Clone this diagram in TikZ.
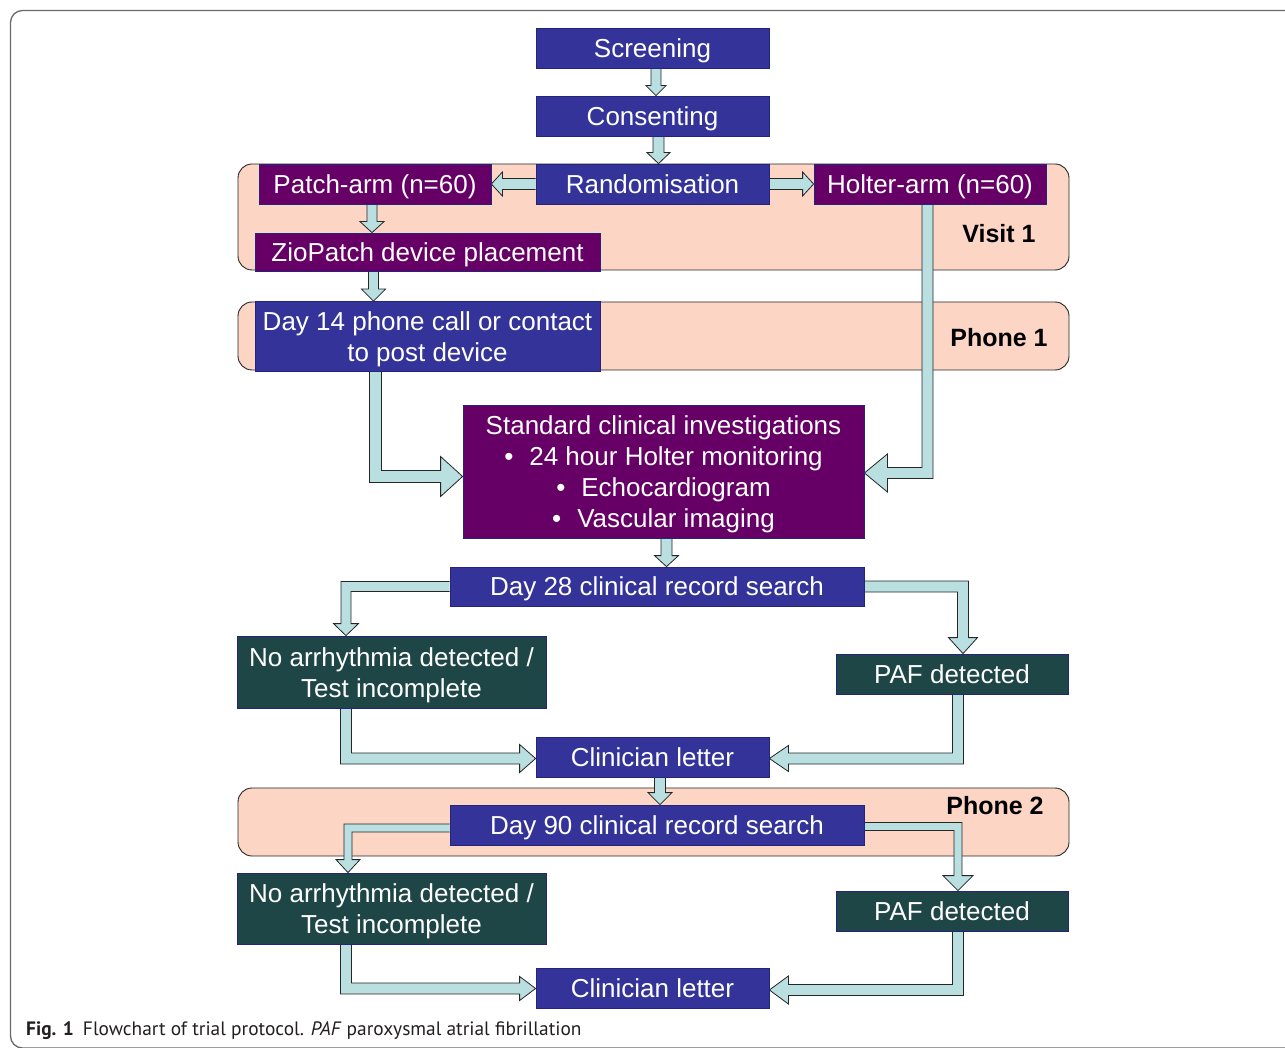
\documentclass[tikz,border=0pt]{standalone}
\usepackage{fontspec}
\setmainfont{Liberation Sans}
\newfontfamily\capfont{PT Sans}
\usetikzlibrary{calc}
\definecolor{boxblue}{HTML}{333399}
\definecolor{boxpurple}{HTML}{660066}
\definecolor{boxteal}{HTML}{1F4646}
\definecolor{bandpeach}{HTML}{FCD5C4}
\definecolor{arrowfill}{HTML}{B9DFE1}
\definecolor{boxline}{HTML}{24247A}
\definecolor{framegray}{HTML}{6A6A6A}
\definecolor{captext}{HTML}{231F20}
\pgfdeclarelayer{bandlayer}
\pgfdeclarelayer{arrowlayer}
\pgfsetlayers{bandlayer,arrowlayer,main}
% straight block arrow: #1 start, #2 tip, #3 direction, #4 perpendicular, #5 half shaft, #6 half head, #7 head length
\newcommand{\straightblk}[7]{\filldraw[blockarrow] ($(#1)-#5*(#4)$) -- ($(#2)-#7*(#3)-#5*(#4)$) -- ($(#2)-#7*(#3)-#6*(#4)$) -- (#2) -- ($(#2)-#7*(#3)+#6*(#4)$) -- ($(#2)-#7*(#3)+#5*(#4)$) -- ($(#1)+#5*(#4)$);}
% elbow block arrow: #1 start, #2 corner, #3 tip, #4 first dir, #5 second dir, #6 half shaft, #7 half head, #8 head length
\newcommand{\elbowblk}[8]{\filldraw[blockarrow] ($(#1)-#6*(#5)$) -- ($(#2)-#6*(#5)+#6*(#4)$) -- ($(#3)-#8*(#5)+#6*(#4)$) -- ($(#3)-#8*(#5)+#7*(#4)$) -- (#3) -- ($(#3)-#8*(#5)-#7*(#4)$) -- ($(#3)-#8*(#5)-#6*(#4)$) -- ($(#2)+#6*(#5)-#6*(#4)$) -- ($(#1)+#6*(#5)$);}
\begin{document}
\begin{tikzpicture}[x=1pt,y=-1pt,
  box/.style={rectangle, draw=boxline, line width=0.8pt, text=white, font=\fontsize{26}{31}\selectfont, align=center, inner sep=0pt,
    execute at begin node={\rule{0pt}{24pt}}, execute at end node={\rule[-5.4pt]{0pt}{5.4pt}}},
  bluebox/.style={box, fill=boxblue},
  purplebox/.style={box, fill=boxpurple},
  tealbox/.style={box, fill=boxteal},
  blockarrow/.style={fill=arrowfill, draw=black!85, line width=0.8pt, line join=miter},
  band/.style={fill=bandpeach, draw=black!85, line width=0.9pt, rounded corners=14pt},
  bandlabel/.style={font=\bfseries\fontsize{25}{30}\selectfont, text=black, inner sep=0pt}
]
\useasboundingbox (0,0) rectangle (1285,1048);
\draw[framegray, line width=1.3pt, rounded corners=12pt] (1300,10.5) -- (10.5,10.5) -- (10.5,1048) -- (1300,1048);

% boxes
\node[bluebox, minimum width=233, minimum height=40] (scr) at (652.5,48) {Screening};
\node[bluebox, minimum width=233, minimum height=40] (cons) at (652.5,116) {Consenting};
\node[bluebox, minimum width=233, minimum height=40] (rand) at (652.5,184) {Randomisation};
\node[purplebox, minimum width=232, minimum height=40] (patch) at (375,184) {Patch-arm (n=60)};
\node[purplebox, minimum width=232, minimum height=40] (holter) at (930,184) {Holter-arm (n=60)};
\node[purplebox, minimum width=345, minimum height=38] (zio) at (427.5,252) {ZioPatch device placement};
\node[bluebox, minimum width=345, minimum height=70, text height=55pt, text depth=5.4pt] (d14) at (427.5,336.5) {Day 14 phone call or contact\\to post device};
\node[purplebox, minimum width=401, minimum height=133, text height=117pt, text depth=5.4pt] (std) at (663.5,471.5) {Standard clinical investigations\\\textbullet\hspace{16pt}24 hour Holter monitoring\\\textbullet\hspace{16pt}Echocardiogram\\\textbullet\hspace{16pt}Vascular imaging};
\node[bluebox, minimum width=414, minimum height=39] (d28) at (657,586.5) {Day 28 clinical record search};
\node[tealbox, minimum width=309, minimum height=72, text height=56pt, text depth=5.4pt] (no1) at (391.5,672) {No arrhythmia detected /\\Test incomplete};
\node[tealbox, minimum width=232, minimum height=40] (paf1) at (952,674) {PAF detected};
\node[bluebox, minimum width=233, minimum height=40] (cl1) at (652.5,757) {Clinician letter};
\node[bluebox, minimum width=414, minimum height=40] (d90) at (657,825) {Day 90 clinical record search};
\node[tealbox, minimum width=309, minimum height=71, text height=55pt, text depth=5.4pt] (no2) at (391.5,908.5) {No arrhythmia detected /\\Test incomplete};
\node[tealbox, minimum width=232, minimum height=40] (paf2) at (952,911) {PAF detected};
\node[bluebox, minimum width=233, minimum height=40] (cl2) at (652.5,988.5) {Clinician letter};

% bands
\begin{pgfonlayer}{bandlayer}
\draw[band] (238,164) rectangle (1069,270);
\draw[band] (238,302) rectangle (1069,370);
\draw[band] (238,788) rectangle (1069,856);
\end{pgfonlayer}
\node[bandlabel] (v1) at (999,234) {Visit 1};
\node[bandlabel] (p1) at (999,338) {Phone 1};
\node[bandlabel] (p2) at (995,806) {Phone 2};

% arrow coordinates
\coordinate (a1s) at ($(scr.south)+(3.5,0)$);
\coordinate (a1t) at (a1s |- cons.north);
\coordinate (a2s) at ($(cons.south)+(6,0)$);
\coordinate (a2t) at (a2s |- rand.north);
\coordinate (a3s) at (rand.west);
\coordinate (a3t) at (patch.east |- a3s);
\coordinate (a4s) at (rand.east);
\coordinate (a4t) at (holter.west |- a4s);
\coordinate (a5s) at ($(patch.south)+(-3,0)$);
\coordinate (a5t) at (a5s |- zio.north);
\coordinate (a6s) at ($(zio.south)+(-54,0)$);
\coordinate (a6t) at (a6s |- d14.north);
\coordinate (a7s) at ($(d14.south)+(-52,0)$);
\coordinate (a7t) at ($(std.west)+(0,5)$);
\coordinate (a7c) at (a7s |- a7t);
\coordinate (a8s) at ($(holter.south)+(-2.5,0)$);
\coordinate (a8t) at ($(std.east)+(0,1.5)$);
\coordinate (a8c) at (a8s |- a8t);
\coordinate (a9s) at ($(std.south)+(3,0)$);
\coordinate (a9t) at (a9s |- d28.north);
\coordinate (b1s) at (d28.west);
\coordinate (b1t) at ($(no1.north)+(-45.5,0)$);
\coordinate (b1c) at (b1t |- b1s);
\coordinate (b2s) at (d28.east);
\coordinate (b2t) at ($(paf1.north)+(11,0)$);
\coordinate (b2c) at (b2t |- b2s);
\coordinate (b3s) at ($(no1.south)+(-45.5,0)$);
\coordinate (b3t) at ($(cl1.west)+(0,1.5)$);
\coordinate (b3c) at (b3s |- b3t);
\coordinate (b4s) at ($(paf1.south)+(6,0)$);
\coordinate (b4t) at ($(cl1.east)+(0,1.5)$);
\coordinate (b4c) at (b4s |- b4t);
\coordinate (b5s) at ($(cl1.south)+(7.5,0)$);
\coordinate (b5t) at (b5s |- d90.north);
\coordinate (c1s) at ($(d90.west)+(0,3)$);
\coordinate (c1t) at ($(no2.north)+(-43.5,0)$);
\coordinate (c1c) at (c1t |- c1s);
\coordinate (c2s) at ($(d90.east)+(0,1.5)$);
\coordinate (c2t) at ($(paf2.north)+(6,0)$);
\coordinate (c2c) at (c2t |- c2s);
\coordinate (c3s) at ($(no2.south)+(-45.5,0)$);
\coordinate (c3t) at (cl2.west);
\coordinate (c3c) at (c3s |- c3t);
\coordinate (c4s) at ($(paf2.south)+(6,0)$);
\coordinate (c4t) at ($(cl2.east)+(0,1.5)$);
\coordinate (c4c) at (c4s |- c4t);

\begin{pgfonlayer}{arrowlayer}
\straightblk{a1s}{a1t}{0,1}{1,0}{5}{10}{10}
\straightblk{a2s}{a2t}{0,1}{1,0}{5.5}{11.5}{11}
\straightblk{a3s}{a3t}{-1,0}{0,1}{5.5}{12}{11}
\straightblk{a4s}{a4t}{1,0}{0,1}{5.5}{12}{11}
\straightblk{a5s}{a5t}{0,1}{1,0}{5}{12}{11}
\straightblk{a6s}{a6t}{0,1}{1,0}{5}{12}{12}
\elbowblk{a7s}{a7c}{a7t}{0,1}{1,0}{6}{20}{22}
\elbowblk{a8s}{a8c}{a8t}{0,1}{-1,0}{5.5}{19}{23}
\straightblk{a9s}{a9t}{0,1}{1,0}{5.5}{12}{11}
\elbowblk{b1s}{b1c}{b1t}{-1,0}{0,1}{5}{12.5}{12}
\elbowblk{b2s}{b2c}{b2t}{1,0}{0,1}{5.5}{14.5}{16}
\elbowblk{b3s}{b3c}{b3t}{0,1}{1,0}{5.5}{14}{16}
\elbowblk{b4s}{b4c}{b4t}{0,1}{-1,0}{5.5}{13}{19}
\straightblk{b5s}{b5t}{0,1}{1,0}{5.5}{12}{12}
\elbowblk{c1s}{c1c}{c1t}{-1,0}{0,1}{4}{12}{13}
\elbowblk{c2s}{c2c}{c2t}{1,0}{0,1}{4}{15}{15}
\elbowblk{c3s}{c3c}{c3t}{0,1}{1,0}{5.5}{12}{16}
\elbowblk{c4s}{c4c}{c4t}{0,1}{-1,0}{5.5}{14}{19}
\end{pgfonlayer}

% caption
\node[anchor=west, inner sep=0pt, text=captext, font=\capfont\fontsize{19.4}{21}\selectfont] (cap) at (26,1031) {\textbf{Fig. 1}\hspace{9pt}Flowchart of trial protocol. \textit{PAF} paroxysmal atrial fibrillation};
\end{tikzpicture}
\end{document}
